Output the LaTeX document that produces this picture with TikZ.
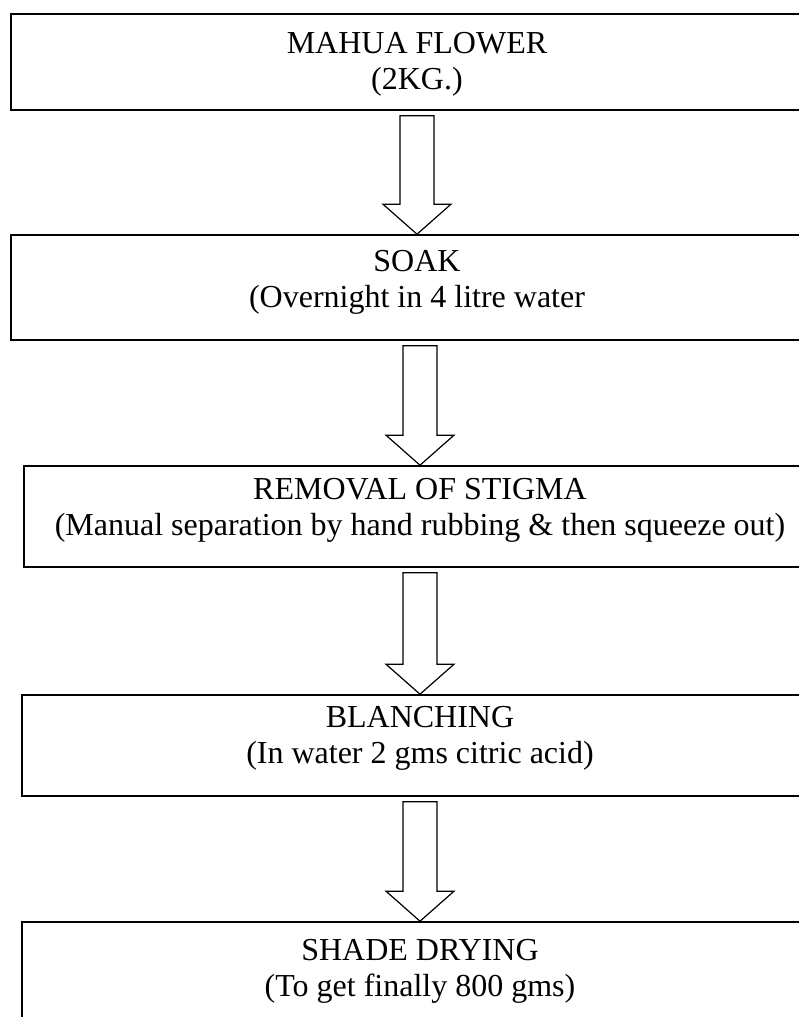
\documentclass[tikz,border=0pt]{standalone}
\usepackage{fontspec}
\setmainfont{Liberation Serif}
\usetikzlibrary{calc}
\tikzset{
  box/.style={draw=black, line width=1.6pt, fill=none, inner sep=0pt},
  txt/.style={align=center, inner sep=0pt, font=\fontsize{32}{36}\selectfont},
  blockarrow/.style={draw=black, line width=1.2pt, fill=white, line join=miter},
}
\newcommand\flowarrow[2]{%
  \path let \p1=(#1.south), \p2=(#2.north) in
    [blockarrow] (\x2-17pt,\y1-5pt) -- (\x2+17pt,\y1-5pt) -- (\x2+17pt,\y2+30pt)
    -- (\x2+34pt,\y2+30pt) -- (\x2,\y2) -- (\x2-34pt,\y2+30pt)
    -- (\x2-17pt,\y2+30pt) -- cycle;}
\begin{document}
\begin{tikzpicture}[x=1pt,y=-1pt]
\useasboundingbox (0,0) rectangle (799,1017);
\node[box, minimum width=812pt, minimum height=96pt] (b1) at (417,62) {};
\node[box, minimum width=812pt, minimum height=105pt] (b2) at (417,287.5) {};
\node[box, minimum width=792pt, minimum height=101pt] (b3) at (420,516.5) {};
\node[box, minimum width=796pt, minimum height=101pt] (b4) at (420,745.5) {};
\node[box, minimum width=796pt, minimum height=110pt] (b5) at (420,977) {};
\node[txt] (t1) at (417,64) {MAHUA FLOWER\\(2KG.)};
\node[txt] (t2) at (417,282) {SOAK\\(Overnight in 4 litre water};
\node[txt] (t3) at (420,510) {REMOVAL OF STIGMA\\(Manual separation by hand rubbing \& then squeeze out)};
\node[txt] (t4) at (420,738) {BLANCHING\\(In water 2 gms citric acid)};
\node[txt] (t5) at (420,971) {SHADE DRYING\\(To get finally 800 gms)};
\flowarrow{b1}{b2}
\flowarrow{b2}{b3}
\flowarrow{b3}{b4}
\flowarrow{b4}{b5}
\end{tikzpicture}
\end{document}
